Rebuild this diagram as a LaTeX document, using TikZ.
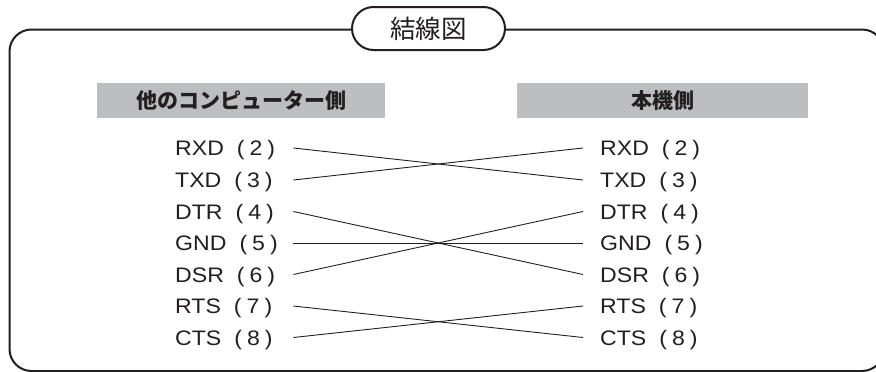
\documentclass[tikz,border=0pt]{standalone}
\usepackage{fontspec}
\setmainfont{Liberation Sans}
\newfontfamily\lab[FakeStretch=1.1]{Liberation Sans}
\newfontfamily\cjk{Noto Sans CJK JP}
\definecolor{barg}{HTML}{BDBEC0}
\definecolor{ink}{HTML}{231F20}
\tikzset{
  frame/.style={draw=ink, line width=2pt, rounded corners=22pt},
  pill/.style={draw=ink, line width=2pt, fill=white, rounded corners=21.5pt,
    minimum width=153pt, minimum height=43pt, inner sep=0pt,
    font=\cjk\fontsize{25.5}{30}\selectfont, text=ink},
  bar/.style={fill=barg, minimum height=35pt, inner sep=0pt,
    font=\cjk\bfseries\fontsize{21}{25}\selectfont, text=ink},
  lbl/.style={anchor=west, inner xsep=17pt, inner ysep=0pt,
    text height=15pt, text depth=0pt,
    font=\lab\fontsize{21}{24}\selectfont, text=ink},
  wire/.style={draw=ink, line width=0.9pt},
}
\newcommand{\pin}[2]{\makebox[101pt][l]{#1\hspace{13pt}(\hspace{5pt}#2\hspace{5pt})}}
\begin{document}
\begin{tikzpicture}[x=1pt,y=-1pt]
\useasboundingbox (0,0) rectangle (876,372);
\clip (0,0) rectangle (876,372);
% outer frame
\draw[frame] (9.5,29.5) rectangle (884,371);
% title
\node[pill] (title) at (428.5,28.5) {結線図};
% header bars
\node[bar, minimum width=288pt] (hl) at (241,100.5) {他のコンピューター側};
\node[bar, minimum width=291pt] (hr) at (662.5,100.5) {本機側};
% left labels
\node[lbl] (L2) at (158,148) {\pin{RXD}{2}};
\node[lbl] (L3) at (158,180) {\pin{TXD}{3}};
\node[lbl] (L4) at (158,211.5) {\pin{DTR}{4}};
\node[lbl] (L5) at (158,243) {\pin{GND}{5}};
\node[lbl] (L6) at (158,274.5) {\pin{DSR}{6}};
\node[lbl] (L7) at (158,306) {\pin{RTS}{7}};
\node[lbl] (L8) at (158,337.5) {\pin{CTS}{8}};
% right labels
\node[lbl] (R2) at (583,148) {\pin{RXD}{2}};
\node[lbl] (R3) at (583,180) {\pin{TXD}{3}};
\node[lbl] (R4) at (583,211.5) {\pin{DTR}{4}};
\node[lbl] (R5) at (583,243) {\pin{GND}{5}};
\node[lbl] (R6) at (583,274.5) {\pin{DSR}{6}};
\node[lbl] (R7) at (583,306) {\pin{RTS}{7}};
\node[lbl] (R8) at (583,337.5) {\pin{CTS}{8}};
% wires
\draw[wire] (L2.east) -- (R3.west);
\draw[wire] (L3.east) -- (R2.west);
\draw[wire] (L4.east) -- (R6.west);
\draw[wire] (L5.east) -- (R5.west);
\draw[wire] (L6.east) -- (R4.west);
\draw[wire] (L7.east) -- (R8.west);
\draw[wire] (L8.east) -- (R7.west);
\end{tikzpicture}
\end{document}
